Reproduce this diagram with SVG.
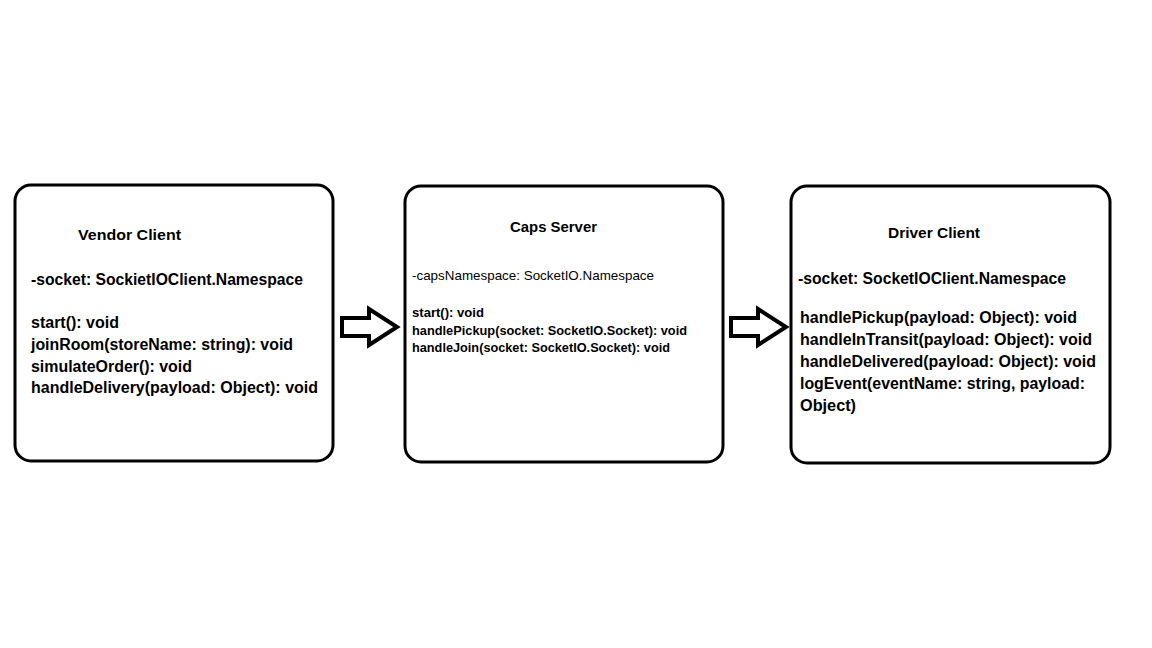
<svg xmlns="http://www.w3.org/2000/svg" width="1152" height="648" viewBox="0 0 1152 648">
<style>
.box{fill:#fff;stroke:#000;stroke-width:3}
.arr{fill:#fff;stroke:#000;stroke-width:4;stroke-linejoin:miter}
text{font-family:"Liberation Sans",Arial,sans-serif;font-weight:bold;fill:#000}
.t{font-size:15px}
.m{font-size:16px}
.s{font-size:13px}
</style>
<rect width="1152" height="648" fill="#fff"/>
<g id="vendor">
<rect class="box" x="15" y="185" width="318" height="276" rx="16"/>
<text class="t" x="78" y="240" textLength="103" lengthAdjust="spacingAndGlyphs">Vendor Client</text>
<text class="m" x="31" y="285" textLength="272" lengthAdjust="spacingAndGlyphs">-socket: SockietIOClient.Namespace</text>
<text class="m" x="31" y="328" textLength="88" lengthAdjust="spacingAndGlyphs">start(): void</text>
<text class="m" x="31" y="350" textLength="262" lengthAdjust="spacingAndGlyphs">joinRoom(storeName: string): void</text>
<text class="m" x="31" y="372" textLength="161" lengthAdjust="spacingAndGlyphs">simulateOrder(): void</text>
<text class="m" x="31" y="393" textLength="287" lengthAdjust="spacingAndGlyphs">handleDelivery(payload: Object): void</text>
</g>
<g id="caps">
<rect class="box" x="405" y="186" width="318" height="276" rx="16"/>
<text class="t" x="510" y="232" textLength="87" lengthAdjust="spacingAndGlyphs">Caps Server</text>
<text class="s" x="412" y="280" textLength="242" lengthAdjust="spacingAndGlyphs" style="font-weight:normal">-capsNamespace: SocketIO.Namespace</text>
<text class="s" x="412" y="317" textLength="72" lengthAdjust="spacingAndGlyphs">start(): void</text>
<text class="s" x="412" y="335" textLength="275" lengthAdjust="spacingAndGlyphs">handlePickup(socket: SocketIO.Socket): void</text>
<text class="s" x="412" y="352" textLength="258" lengthAdjust="spacingAndGlyphs">handleJoin(socket: SocketIO.Socket): void</text>
</g>
<g id="driver">
<rect class="box" x="791" y="186" width="319" height="277" rx="16"/>
<text class="t" x="888" y="238" textLength="92" lengthAdjust="spacingAndGlyphs">Driver Client</text>
<text class="m" x="798" y="284" textLength="268" lengthAdjust="spacingAndGlyphs">-socket: SocketIOClient.Namespace</text>
<text class="m" x="800" y="323" textLength="277" lengthAdjust="spacingAndGlyphs">handlePickup(payload: Object): void</text>
<text class="m" x="800" y="345" textLength="292" lengthAdjust="spacingAndGlyphs">handleInTransit(payload: Object): void</text>
<text class="m" x="800" y="367" textLength="296" lengthAdjust="spacingAndGlyphs">handleDelivered(payload: Object): void</text>
<text class="m" x="800" y="389" textLength="285" lengthAdjust="spacingAndGlyphs">logEvent(eventName: string, payload:</text>
<text class="m" x="800" y="411" textLength="56" lengthAdjust="spacingAndGlyphs">Object)</text>
</g>
<g id="connectors">
<polygon class="arr" points="342,318 369,318 369,309 397,327 369,345 369,336 342,336"/>
<polygon class="arr" points="731,318 758,318 758,309 786,327 758,345 758,336 731,336"/>
</g>
</svg>
